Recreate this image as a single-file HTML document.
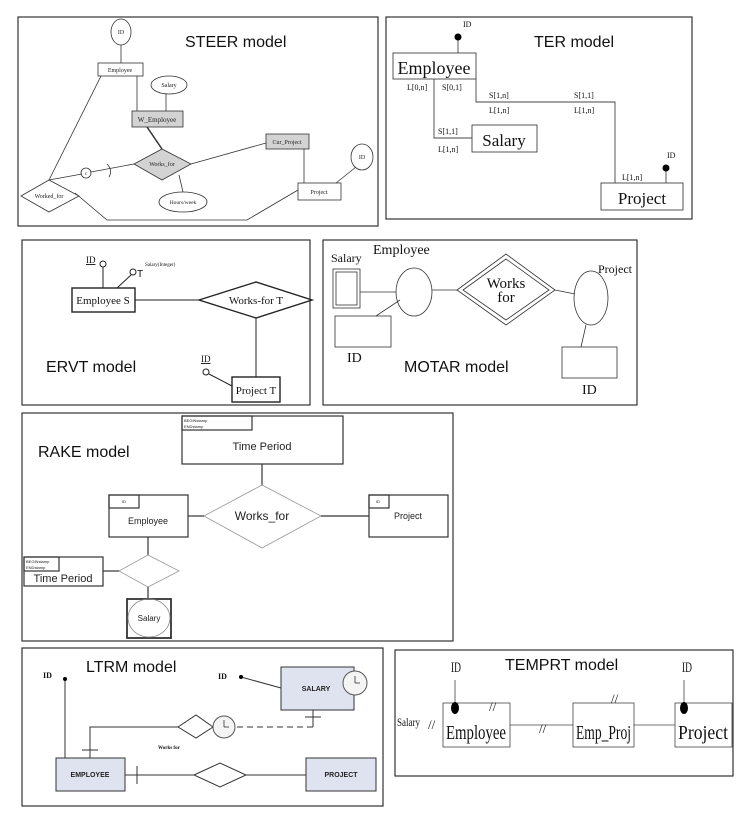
<!DOCTYPE html>
<html><head><meta charset="utf-8"><style>html,body{margin:0;padding:0;background:#fff}svg{display:block}</style></head><body>
<svg width="747" height="823" viewBox="0 0 747 823" xmlns="http://www.w3.org/2000/svg" font-family="Liberation Sans, sans-serif">
<g fill="none" stroke="#333" stroke-width="1.2">
<rect x="18" y="17" width="360" height="209"/>
<rect x="386" y="17" width="306" height="202"/>
<rect x="22" y="240" width="288" height="165"/>
<rect x="323" y="240" width="314" height="165"/>
<rect x="22" y="413" width="431" height="228"/>
<rect x="22" y="648" width="361" height="158"/>
<rect x="395" y="650" width="338" height="126"/>
</g>

<!-- STEER -->
<g stroke="#333" stroke-width="0.8" fill="none">
<ellipse cx="121" cy="32" rx="10" ry="13" fill="#fff"/>
<line x1="121" y1="45" x2="121" y2="63"/>
<rect x="98" y="63" width="45" height="13" fill="#fff"/>
<ellipse cx="169" cy="85" rx="18" ry="9"/>
<line x1="137" y1="76" x2="137" y2="111"/><line x1="166" y1="94" x2="166" y2="111"/>
<rect x="132" y="111" width="51" height="16" fill="#d3d3d3"/>
<line x1="147" y1="127" x2="162" y2="149" stroke-width="1.5"/>
<polygon points="134,164 162,149 191,164 162,180" fill="#d3d3d3"/>
<rect x="266" y="134" width="43" height="15" fill="#d3d3d3"/>
<line x1="191" y1="164" x2="266" y2="143"/>
<line x1="304" y1="149" x2="304" y2="183"/>
<rect x="298" y="183" width="43" height="17"/>
<ellipse cx="362" cy="157" rx="11" ry="13"/>
<line x1="336" y1="183" x2="356" y2="167"/>
<ellipse cx="183" cy="202" rx="24" ry="10"/>
<line x1="179" y1="175" x2="183" y2="192"/>
<polygon points="21,196 49,180 79,196 49,212"/>
<line x1="101" y1="76" x2="49" y2="180"/>
<line x1="49" y1="180" x2="82" y2="174"/>
<circle cx="86" cy="173" r="5"/>
<line x1="91" y1="172" x2="134" y2="164"/>
<path d="M107,164 Q113,170 109,177"/>
<polyline points="75,193 107,220 247,220 298,190"/>
</g>
<g font-family="Liberation Serif, serif" font-size="6" text-anchor="middle" fill="#222">
<text x="121" y="34">ID</text><text x="120" y="72">Employee</text><text x="169" y="87">Salary</text>
<text x="157" y="122" font-size="7">W_Employee</text><text x="162" y="166">Works_for</text>
<text x="287" y="144">Cur_Project</text><text x="319" y="194">Project</text><text x="362" y="159">ID</text>
<text x="183" y="204" font-size="5.5">Hours/week</text><text x="49" y="198">Worked_for</text><text x="86" y="175" font-size="5">c</text>
</g>
<text x="185" y="47" font-size="16" fill="#111">STEER model</text>

<!-- TER -->
<g stroke="#444" stroke-width="0.9" fill="none">
<line x1="458" y1="37" x2="458" y2="53"/>
<rect x="393" y="53" width="83" height="26"/>
<polyline points="434,79 434,138 472,138"/>
<rect x="472" y="125" width="65" height="27"/>
<polyline points="476,79 476,102 615,102 615,183"/>
<rect x="601" y="183" width="82" height="27"/>
<line x1="666" y1="168" x2="666" y2="183"/>
</g>
<circle cx="458" cy="37" r="3.5" fill="#000"/><circle cx="666" cy="168" r="3.5" fill="#000"/>
<g font-family="Liberation Serif, serif" fill="#111">
<text x="463" y="27" font-size="8">ID</text><text x="667" y="158" font-size="8">ID</text>
<text x="434" y="74" font-size="18" text-anchor="middle">Employee</text>
<text x="504" y="146" font-size="17" text-anchor="middle">Salary</text>
<text x="642" y="204" font-size="17" text-anchor="middle">Project</text>
<g font-size="8"><text x="407" y="90">L[0,n]</text><text x="442" y="90">S[0,1]</text>
<text x="489" y="98">S[1,n]</text><text x="489" y="113">L[1,n]</text>
<text x="574" y="98">S[1,1]</text><text x="574" y="113">L[1,n]</text>
<text x="438" y="134">S[1,1]</text><text x="438" y="152">L[1,n]</text><text x="622" y="180">L[1,n]</text></g>
</g>
<text x="534" y="47" font-size="16" fill="#111">TER model</text>

<!-- ERVT -->
<g stroke="#222" stroke-width="1" fill="none">
<circle cx="103" cy="264" r="3"/><line x1="103" y1="267" x2="103" y2="288"/>
<circle cx="133" cy="272" r="3"/><line x1="131" y1="275" x2="117" y2="288"/>
<rect x="72" y="288" width="63" height="24" stroke-width="1.4"/>
<line x1="135" y1="300" x2="199" y2="300"/>
<polygon points="199,300 256,282 312,300 256,318" stroke-width="1.4"/>
<line x1="256" y1="318" x2="256" y2="377"/>
<rect x="232" y="377" width="48" height="25" stroke-width="1.4"/>
<circle cx="206" cy="372" r="3"/><line x1="209" y1="374" x2="232" y2="386"/>
</g>
<g font-family="Liberation Serif, serif" fill="#111">
<text x="86" y="263" font-size="9" text-decoration="underline">ID</text>
<text x="137" y="277" font-family="Liberation Sans, sans-serif" font-size="10">T</text>
<text x="145" y="266" font-size="5">Salary(Integer)</text>
<text x="103" y="304" font-size="11" text-anchor="middle">Employee S</text>
<text x="256" y="304" font-size="11" text-anchor="middle">Works-for T</text>
<text x="256" y="394" font-size="11" text-anchor="middle">Project T</text>
<text x="201" y="362" font-size="9" text-decoration="underline">ID</text>
</g>
<text x="46" y="372" font-size="16" fill="#111">ERVT model</text>

<!-- MOTAR -->
<g stroke="#333" stroke-width="0.8" fill="none">
<rect x="333" y="269" width="27" height="39"/><rect x="336" y="272" width="21" height="33"/>
<line x1="360" y1="292" x2="396" y2="292"/>
<ellipse cx="414" cy="292" rx="18" ry="24"/>
<rect x="335" y="316" width="56" height="31"/><line x1="400" y1="300" x2="376" y2="316"/>
<line x1="432" y1="290" x2="457" y2="290"/>
<polygon points="457,290 506,254 555,290 506,325"/><polygon points="463,290 506,259 549,290 506,320"/>
<line x1="555" y1="290" x2="575" y2="294"/>
<ellipse cx="591" cy="298" rx="17" ry="27"/>
<line x1="586" y1="325" x2="581" y2="347"/>
<rect x="562" y="347" width="55" height="31"/>
</g>
<g font-family="Liberation Serif, serif" fill="#111">
<text x="331" y="262" font-size="12">Salary</text><text x="373" y="254" font-size="14">Employee</text>
<text x="347" y="362" font-size="14">ID</text><text x="506" y="288" font-size="15" text-anchor="middle">Works</text>
<text x="506" y="302" font-size="15" text-anchor="middle">for</text>
<text x="598" y="273" font-size="12">Project</text><text x="582" y="394" font-size="14">ID</text>
</g>
<text x="404" y="372" font-size="16" fill="#111">MOTAR model</text>

<!-- RAKE -->
<g stroke="#333" stroke-width="1.2" fill="none">
<rect x="182" y="416" width="161" height="48"/><rect x="182" y="416" width="70" height="14"/>
<line x1="262" y1="464" x2="262" y2="485"/>
<polygon points="204,516 262,485 321,516 262,548" stroke="#999" stroke-width="0.8"/>
<rect x="109" y="495" width="79" height="42"/><rect x="109" y="495" width="30" height="13"/>
<line x1="188" y1="516" x2="204" y2="516"/>
<rect x="369" y="495" width="79" height="42"/><rect x="369" y="495" width="20" height="13"/>
<line x1="321" y1="516" x2="369" y2="516"/>
<line x1="148" y1="537" x2="148" y2="555"/>
<polygon points="119,571 148,555 179,571 148,587" stroke="#999" stroke-width="0.8"/>
<rect x="24" y="557" width="79" height="29"/><rect x="24" y="557" width="35" height="14"/>
<line x1="103" y1="571" x2="119" y2="571"/>
<line x1="148" y1="587" x2="148" y2="599"/>
<rect x="127" y="599" width="44" height="39" stroke-width="1.8"/>
<ellipse cx="149" cy="618" rx="21" ry="19" stroke="#888" stroke-width="0.8"/>
</g>
<g fill="#222">
<text x="184" y="422" font-size="4">BEGINstamp</text><text x="184" y="428" font-size="4">ENDstamp</text>
<text x="262" y="450" font-size="11" text-anchor="middle">Time Period</text>
<text x="262" y="520" font-size="12" text-anchor="middle">Works_for</text>
<text x="122" y="503" font-size="4">ID</text><text x="148" y="524" font-size="9" text-anchor="middle">Employee</text>
<text x="376" y="503" font-size="4">ID</text><text x="408" y="519" font-size="9" text-anchor="middle">Project</text>
<text x="26" y="563" font-size="4">BEGINstamp</text><text x="26" y="569" font-size="4">ENDstamp</text>
<text x="63" y="582" font-size="11" text-anchor="middle">Time Period</text>
<text x="149" y="621" font-size="8" text-anchor="middle">Salary</text>
</g>
<text x="38" y="457" font-size="16" fill="#111">RAKE model</text>

<!-- LTRM -->
<g stroke="#333" stroke-width="1" fill="none">
<line x1="65" y1="679" x2="65" y2="758"/>
<rect x="56" y="758" width="69" height="33" fill="#dfe3f0"/>
<line x1="125" y1="775" x2="194" y2="775"/><line x1="137" y1="766" x2="137" y2="784"/>
<polygon points="194,775 220,763 246,775 220,787" fill="#fff"/>
<line x1="246" y1="775" x2="306" y2="775"/>
<rect x="306" y="758" width="70" height="33" fill="#dfe3f0"/>
<polyline points="90,758 90,727 178,727"/><line x1="82" y1="750" x2="98" y2="750"/>
<polygon points="178,727 196,715 213,727 196,738" fill="#fff"/>
<line x1="237" y1="727" x2="313" y2="727" stroke-dasharray="6,4"/>
<line x1="313" y1="727" x2="313" y2="710"/><line x1="305" y1="717" x2="321" y2="717"/>
<rect x="281" y="667" width="73" height="43" fill="#dfe3f0"/>
<line x1="241" y1="677" x2="281" y2="688"/>
</g>
<g stroke="#555" stroke-width="1"><circle cx="224" cy="727" r="11" fill="#f4f4f4"/><circle cx="355" cy="683" r="12" fill="#f4f4f4"/></g>
<g stroke="#333" stroke-width="0.8"><line x1="224" y1="720" x2="224" y2="727"/><line x1="224" y1="727" x2="229" y2="727"/><line x1="355" y1="676" x2="355" y2="683"/><line x1="355" y1="683" x2="360" y2="683"/></g>
<circle cx="65" cy="679" r="2" fill="#000"/><circle cx="241" cy="677" r="2" fill="#000"/>
<g font-family="Liberation Serif, serif" font-weight="bold" fill="#111">
<text x="43" y="678" font-size="8">ID</text><text x="218" y="679" font-size="8">ID</text>
<text x="158" y="749" font-size="5">Works for</text>
</g>
<g font-weight="bold" font-size="7" text-anchor="middle" fill="#222">
<text x="90" y="777">EMPLOYEE</text><text x="341" y="777">PROJECT</text><text x="316" y="691">SALARY</text>
</g>
<text x="86" y="672" font-size="16" fill="#111">LTRM model</text>

<!-- TEMPRT -->
<g stroke="#444" stroke-width="0.8" fill="none">
<line x1="455" y1="680" x2="455" y2="708"/><line x1="684" y1="680" x2="684" y2="708"/>
<rect x="443" y="703" width="67" height="44"/>
<line x1="510" y1="725" x2="573" y2="725"/>
<rect x="573" y="703" width="61" height="44"/>
<line x1="634" y1="725" x2="675" y2="725"/>
<rect x="675" y="703" width="57" height="44"/>
</g>
<ellipse cx="455" cy="708" rx="4" ry="6" fill="#000"/><ellipse cx="684" cy="708" rx="4" ry="6" fill="#000"/>
<g font-family="Liberation Serif, serif" fill="#111">
<text x="451" y="672" font-size="15" textLength="10" lengthAdjust="spacingAndGlyphs">ID</text>
<text x="682" y="672" font-size="15" textLength="10" lengthAdjust="spacingAndGlyphs">ID</text>
<text x="446" y="739" font-size="20" textLength="60" lengthAdjust="spacingAndGlyphs">Employee</text>
<text x="576" y="739" font-size="20" textLength="55" lengthAdjust="spacingAndGlyphs">Emp_Proj</text>
<text x="678" y="739" font-size="20" textLength="50" lengthAdjust="spacingAndGlyphs">Project</text>
<text x="397" y="726" font-size="12" textLength="23" lengthAdjust="spacingAndGlyphs">Salary</text>
<text x="428" y="729" font-size="13">//</text><text x="489" y="711" font-size="13">//</text>
<text x="539" y="733" font-size="13">//</text><text x="611" y="703" font-size="13">//</text>
</g>
<text x="505" y="670" font-size="16" fill="#111">TEMPRT model</text>
</svg>
</body></html>
